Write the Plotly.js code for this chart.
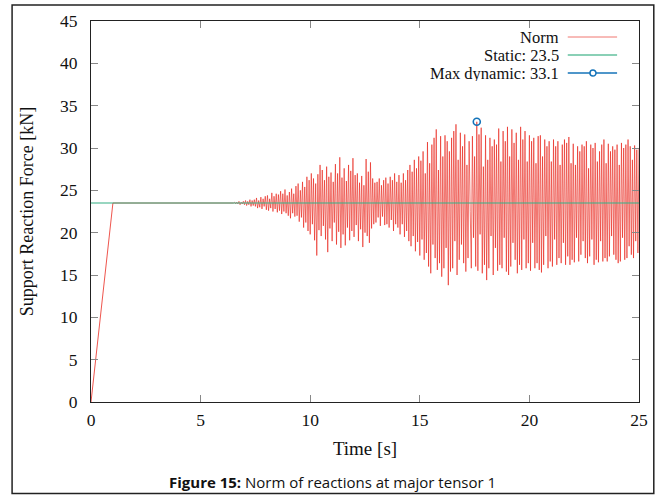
<!DOCTYPE html>
<html>
<head>
<meta charset="utf-8">
<script src="https://cdn.plot.ly/plotly-3.0.1.min.js"></script>
<style>html,body{margin:0;padding:0;background:#fff;}#chart{width:661px;height:495px;}</style>
</head>
<body>
<div id="chart"></div>
<script>
// ---- data ----
const rampTime = [0, 1, 6.5];
const rampForce = [0, 23.5, 23.5];
const dynamicStart = 6.5;   // s
const sampleStep = 0.05;    // s
const dynamicForce = [
 23.5,23.6,23.4,23.6,23.4,23.7,23.3,23.6,23.4,23.7,
 23.3,23.8,23.2,23.7,23.3,23.9,23.1,23.8,23.2,23.9,
 23.1,24.1,22.9,23.8,23.0,24.2,22.8,24.0,23.1,24.3,
 22.7,24.4,22.6,24.0,22.9,24.7,22.5,24.3,22.8,24.6,
 22.4,24.5,22.6,24.9,22.2,24.6,22.5,25.1,22.3,24.4,
 22.0,24.8,21.7,25.2,22.3,24.6,21.9,25.5,22.0,25.8,
 21.3,25.0,21.8,26.0,20.6,25.4,21.2,26.6,20.2,26.2,
 19.8,27.0,21.0,26.4,19.1,25.8,17.3,26.9,20.3,28.0,
 19.6,27.4,20.8,26.2,19.2,27.8,17.7,26.6,20.5,27.1,
 19.0,26.0,21.2,28.1,18.6,27.0,20.1,28.9,18.2,26.5,
 19.8,27.6,18.5,26.1,20.6,28.0,19.1,27.3,20.2,28.8,
 19.5,26.8,20.9,27.0,19.0,25.9,20.4,26.7,18.3,25.6,
 20.0,28.7,19.6,27.2,18.8,28.3,20.5,26.4,21.0,25.9,
 21.2,26.0,21.8,26.4,20.8,25.6,21.9,26.2,20.9,26.5,
 21.0,25.8,20.6,26.6,21.5,26.2,20.2,27.0,21.0,26.0,
 20.6,26.8,19.8,25.9,21.0,27.0,19.5,26.2,20.2,27.4,
 19.0,28.0,18.4,27.2,19.6,28.6,17.8,27.6,18.9,29.0,
 17.3,28.5,19.2,29.6,16.8,27.0,17.6,30.7,16.0,28.2,
 15.2,30.4,18.6,31.2,17.0,32.2,15.6,27.4,16.4,31.4,
 14.8,29.0,15.8,31.5,18.2,30.8,13.8,29.6,15.4,31.2,
 15.8,32.0,19.0,32.8,15.0,28.6,16.8,31.8,18.6,30.2,
 16.4,31.6,15.4,28.0,17.0,30.8,22.5,15.8,31.4,19.4,
 29.0,16.0,33.1,15.5,31.6,19.8,32.4,15.2,27.8,16.2,
 31.5,14.4,28.6,15.8,31.2,19.6,30.2,15.0,31.0,18.2,
 30.4,15.5,32.3,16.2,28.4,15.8,32.0,19.4,30.8,15.4,
 32.5,15.0,29.0,16.0,32.2,18.8,30.6,16.8,31.8,15.2,
 28.6,16.2,32.5,15.6,31.0,19.2,32.0,15.8,28.4,16.4,
 31.5,15.5,30.8,18.8,31.2,15.8,28.2,16.4,31.4,15.6,
 31.5,15.3,29.0,16.2,31.0,19.6,30.2,15.8,30.8,16.6,
 28.4,16.0,31.0,19.2,30.2,16.2,30.8,17.0,28.0,16.4,
 30.4,18.8,31.0,16.2,30.6,17.2,31.3,16.2,28.2,16.8,
 30.5,16.5,28.0,19.4,30.2,16.6,29.6,17.4,30.4,19.0,
 30.2,17.0,30.8,16.4,27.6,17.2,30.4,19.2,30.0,16.2,
 30.6,16.8,28.4,16.5,29.6,19.0,30.4,16.6,31.0,17.0,
 28.2,16.6,30.5,17.2,29.6,19.6,30.2,17.4,29.8,16.8,
 30.4,16.4,28.0,16.6,30.6,19.4,30.0,16.8,30.4,17.0,
 31.0,18.4,30.2,17.4,28.6,17.0,30.3,19.0,29.8,17.6,
 30.0
];
const staticTime = [0, 25];
const staticForce = [23.5, 23.5];
const maxTime = [17.6];
const maxForce = [33.1];
const xTicks = [0, 5, 10, 15, 20, 25];
const yTicks = [0, 5, 10, 15, 20, 25, 30, 35, 40, 45];
const legendLabels = ["Norm", "Static: 23.5", "Max dynamic: 33.1"];

// ---- styles ----
const RED = "rgb(232,28,18)";
const GREEN = "rgb(60,178,135)";
const BLUE = "rgb(20,115,185)";
const SERIF = "Liberation Serif, DejaVu Serif, serif";

const traces = [
  {x: rampTime, y: rampForce, mode: "lines", line: {color: RED, width: 1}, opacity: 0.75, showlegend: false, hoverinfo: "skip"},
  {y: dynamicForce, x0: dynamicStart, dx: sampleStep, mode: "lines", line: {color: RED, width: 1}, opacity: 0.6, showlegend: false},
  {x: staticTime, y: staticForce, mode: "lines", line: {color: GREEN, width: 1.5}, opacity: 0.7, showlegend: false},
  {x: maxTime, y: maxForce, mode: "markers", marker: {symbol: "circle-open", size: 7, color: BLUE, line: {width: 1.6, color: BLUE}}, showlegend: false}
];

// legend drawn gnuplot-style (text right, sample on the right)
const legRows = [0.958, 0.911, 0.8635];
const legColors = [RED, GREEN, BLUE];
const annotations = legendLabels.map((t, i) => ({
  text: t, xref: "paper", yref: "paper", x: 0.856, y: legRows[i], xanchor: "right", yanchor: "middle",
  height: 16, valign: "middle", borderpad: 0,
  showarrow: false, font: {family: SERIF, size: 16.5, color: "#111"}
}));
const shapes = legRows.map((yy, i) => ({
  type: "line", xref: "paper", yref: "paper", x0: 0.870, x1: 0.960, y0: yy, y1: yy,
  line: {color: legColors[i], width: i === 0 ? 1 : 1.5}, opacity: i === 0 ? 0.6 : (i === 1 ? 0.8 : 1)
}));
shapes.push({type: "circle", xref: "paper", yref: "paper", x0: 0.9105, x1: 0.9215, y0: legRows[2] - 0.008, y1: legRows[2] + 0.008,
  line: {color: BLUE, width: 1.5}, fillcolor: "white"});
// outer figure frame
shapes.push({type: "rect", xref: "paper", yref: "paper", x0: -0.144, x1: 1.027, y0: -0.240, y1: 1.042,
  line: {color: "#222", width: 1.5}, layer: "below"});

annotations.push({
  text: "<b>Figure 15:</b> Norm of reactions at major tensor 1",
  xref: "paper", yref: "paper", x: 0.4416, y: -0.21, xanchor: "center", yanchor: "middle",
  showarrow: false, font: {family: "Open Sans, Noto Sans, sans-serif", size: 15, color: "#111"}
});

const axisCommon = {
  showline: true, linecolor: "#222", linewidth: 1, mirror: "ticks",
  ticks: "inside", ticklen: 7, tickcolor: "#888", tickwidth: 1,
  showgrid: false, zeroline: false,
  tickfont: {family: SERIF, size: 17.5, color: "#111"}
};

const layout = {
  width: 661, height: 495,
  margin: {l: 91, r: 22, t: 21, b: 93},
  paper_bgcolor: "#fff", plot_bgcolor: "#fff",
  showlegend: false,
  xaxis: Object.assign({}, axisCommon, {
    range: [0, 25], tickmode: "array", tickvals: xTicks, ticktext: xTicks.map(String),
    ticklabelstandoff: 2,
    title: {text: "Time [s]", font: {family: SERIF, size: 19, color: "#111"}, standoff: 12}
  }),
  yaxis: Object.assign({}, axisCommon, {
    range: [0, 45], tickmode: "array", tickvals: yTicks, ticktext: yTicks.map(String),
    ticklabelstandoff: 9,
    title: {text: "Support Reaction Force [kN]", font: {family: SERIF, size: 18, color: "#111"}, standoff: 21}
  }),
  annotations: annotations,
  shapes: shapes
};

Plotly.newPlot("chart", traces, layout, {displayModeBar: false, staticPlot: true});
</script>
</body>
</html>
